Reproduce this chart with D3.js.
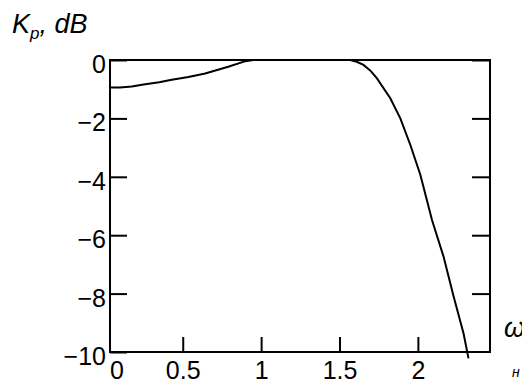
<!DOCTYPE html>
<html>
<head>
<meta charset="utf-8">
<script src="https://cdn.jsdelivr.net/npm/d3@7"></script>
<style>
  body { margin: 0; background: #fff; }
  svg { display: block; }
  text { font-family: "Liberation Sans", Arial, sans-serif; fill: #000; }
</style>
</head>
<body>
<div id="main"></div>
<script>
// Frequency response data
var omega = [0.036, 0.1, 0.175, 0.25, 0.35, 0.43, 0.536, 0.643, 0.79, 0.9, 0.95, 1.2, 1.4, 1.568,
             1.61, 1.653, 1.7, 1.739, 1.824, 1.888, 1.952, 2.016, 2.09, 2.164, 2.228, 2.291, 2.323];
var gain = [-0.94, -0.94, -0.91, -0.84, -0.76, -0.68, -0.58, -0.46, -0.23, -0.04, 0, 0, 0, 0,
            -0.06, -0.17, -0.38, -0.63, -1.31, -2.0, -2.91, -3.94, -5.48, -6.74, -8.1, -9.36, -10.22];

var xTickValues = [0.5, 1, 1.5, 2];
var yTickValues = [0, -2, -4, -6, -8, -10];
var xMin = 0.036, xMax = 2.46;

var svgWidth = 522;
var svgHeight = 380;
var plot = {l: 110, r: 490, t: 60, b: 352};

var svg = d3.select('#main')
	.append('svg')
	.attr('width', svgWidth)
	.attr('height', svgHeight);

var xScale = d3.scaleLinear().domain([xMin, xMax]).range([plot.l, plot.r]);
var yScale = d3.scaleLinear().domain([-10, 0]).range([plot.b, plot.t]);

var fmt = function(d) { return d < 0 ? '\u2212' + Math.abs(d) : String(d); };

// left axis, ticks pointing inward
var yAxisLeft = svg.append('g')
	.attr('transform', `translate(${plot.l},0)`)
	.call(d3.axisLeft(yScale).tickValues(yTickValues).tickSize(-17).tickPadding(4).tickFormat(fmt));
yAxisLeft.select('.domain').remove();
yAxisLeft.selectAll('text').attr('dy', '0.5em').style('font-size', '25px');

// right axis, ticks only
var yAxisRight = svg.append('g')
	.attr('transform', `translate(${plot.r},0)`)
	.call(d3.axisRight(yScale).tickValues(yTickValues.slice(0, 5)).tickSize(-18).tickFormat(''));
yAxisRight.select('.domain').remove();

// bottom axis
var xAxis = svg.append('g')
	.attr('transform', `translate(0,${plot.b})`)
	.call(d3.axisBottom(xScale).tickValues(xTickValues).tickSize(-15).tickPadding(9).tickFormat(d3.format('')));
xAxis.select('.domain').remove();
xAxis.selectAll('text').style('font-size', '25px');

// "0" label sits at the axis start
xAxis.append('text')
	.attr('x', plot.l)
	.attr('y', 9)
	.attr('dy', '0.71em')
	.attr('text-anchor', 'start')
	.style('font-size', '25px')
	.text('0');

svg.selectAll('.tick line').attr('stroke', '#000').attr('stroke-width', 2);

// frame
svg.append('rect')
	.attr('x', plot.l)
	.attr('y', plot.t)
	.attr('width', plot.r - plot.l)
	.attr('height', plot.b - plot.t)
	.attr('fill', 'none')
	.attr('stroke', '#000')
	.attr('stroke-width', 2);

// curve
var line = d3.line()
	.x(function(d, i) { return xScale(omega[i]); })
	.y(function(d) { return yScale(d); });

svg.append('path')
	.datum(gain)
	.attr('d', line)
	.attr('fill', 'none')
	.attr('stroke', '#000')
	.attr('stroke-width', 2);

// axis titles
var title = svg.append('text')
	.attr('x', 12)
	.attr('y', 33)
	.style('font-style', 'italic')
	.style('font-size', '27px');
title.append('tspan').text('K');
title.append('tspan').attr('dy', 6).style('font-size', '17px').text('p');
title.append('tspan').attr('dy', -6).text(', dB');

svg.append('text')
	.attr('x', 504)
	.attr('y', 337)
	.style('font-style', 'italic')
	.style('font-size', '27px')
	.text('\u03c9');

svg.append('text')
	.attr('x', 512)
	.attr('y', 377)
	.style('font-style', 'italic')
	.style('font-size', '14px')
	.text('\u043d');
</script>
</body>
</html>
